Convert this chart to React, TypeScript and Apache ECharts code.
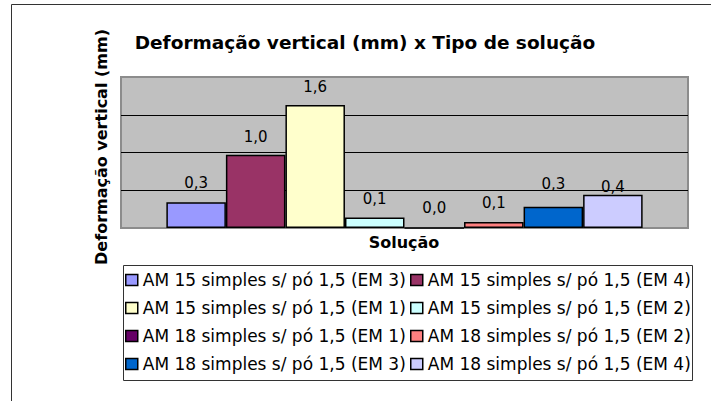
import React, { useEffect, useRef } from 'react';
import * as echarts from 'echarts';

const categories = ['Solução'];
const seriesNames = [
  'AM 15 simples s/ pó 1,5 (EM 3)',
  'AM 15 simples s/ pó 1,5 (EM 4)',
  'AM 15 simples s/ pó 1,5 (EM 1)',
  'AM 15 simples s/ pó 1,5 (EM 2)',
  'AM 18 simples s/ pó 1,5 (EM 1)',
  'AM 18 simples s/ pó 1,5 (EM 2)',
  'AM 18 simples s/ pó 1,5 (EM 3)',
  'AM 18 simples s/ pó 1,5 (EM 4)',
];
const seriesValues = [0.34, 0.97, 1.63, 0.14, 0.0, 0.08, 0.28, 0.44];
const seriesColors = ['#9999FF', '#993366', '#FFFFCC', '#CCFFFF', '#660066', '#FF8080', '#0066CC', '#CCCCFF'];
const labelDistances = [11.5, 10.5, 10.5, 10.5, 11.5, 11.5, 15.5, 0.5];
const yMin = 0;
const yMax = 2;
const yInterval = 0.5;

const titleText = 'Deformação vertical (mm) x Tipo de solução';
const yTitle = 'Deformação vertical (mm)';
const xTitle = 'Solução';

const FONT = "'DejaVu Sans', sans-serif";

export default function App() {
  const ref = useRef<HTMLDivElement>(null);
  useEffect(() => {
    const chart = echarts.init(ref.current as HTMLDivElement, null, { renderer: 'svg' });
    const fmt = (v: number) => v.toFixed(1).replace('.', ',');
    chart.setOption({
      animation: false,
      backgroundColor: '#ffffff',
      textStyle: { fontFamily: FONT },
      grid: {
        show: true,
        left: 121,
        top: 77,
        width: 567,
        height: 151,
        backgroundColor: '#C0C0C0',
        borderColor: '#8c8c8c',
        borderWidth: 2,
      },
      xAxis: {
        type: 'category',
        data: categories,
        axisLabel: { show: false },
        axisTick: { show: false },
        axisLine: { show: false },
      },
      yAxis: {
        type: 'value',
        min: yMin,
        max: yMax,
        interval: yInterval,
        axisLabel: { show: false },
        axisTick: { show: false },
        axisLine: { show: false },
        splitLine: {
          show: true,
          showMinLine: false,
          showMaxLine: false,
          lineStyle: { color: '#000000', width: 1 },
        },
      },
      legend: [
        {
          orient: 'vertical',
          left: 125,
          top: 271,
          padding: 0,
          itemGap: 10,
          itemWidth: 12,
          itemHeight: 11,
          icon: 'rect',
          selectedMode: false,
          data: [seriesNames[0], seriesNames[2], seriesNames[4], seriesNames[6]],
          itemStyle: { borderColor: '#000', borderWidth: 1.5 },
          textStyle: { fontFamily: FONT, fontSize: 17, color: '#000', lineHeight: 18 },
        },
        {
          orient: 'vertical',
          left: 410,
          top: 271,
          padding: 0,
          itemGap: 10,
          itemWidth: 12,
          itemHeight: 11,
          icon: 'rect',
          selectedMode: false,
          data: [seriesNames[1], seriesNames[3], seriesNames[5], seriesNames[7]],
          itemStyle: { borderColor: '#000', borderWidth: 1.5 },
          textStyle: { fontFamily: FONT, fontSize: 17, color: '#000', lineHeight: 18 },
        },
      ],
      series: seriesNames.map((name, i) => ({
        type: 'bar',
        name,
        data: [seriesValues[i]],
        barGap: '0%',
        barCategoryGap: '16%',
        itemStyle: { color: seriesColors[i], borderColor: '#000', borderWidth: 1.5 },
        label: {
          show: true,
          position: 'top',
          distance: labelDistances[i],
          formatter: (p: any) => fmt(p.value),
          fontFamily: FONT,
          fontSize: 15,
          color: '#000',
        },
      })),
      graphic: [
        {
          type: 'polyline',
          shape: { points: [[11.5, 401], [11.5, 4.5], [711, 4.5]] },
          style: { stroke: '#333', lineWidth: 1, fill: 'none' },
          silent: true,
        },
        {
          type: 'rect',
          shape: { x: 123.5, y: 265.5, width: 569, height: 115 },
          style: { stroke: '#333', lineWidth: 1, fill: 'none' },
          silent: true,
        },
        {
          type: 'text',
          x: 365,
          y: 42,
          style: {
            text: titleText,
            fontFamily: FONT,
            fontSize: 18.5,
            fontWeight: 'bold',
            fill: '#000',
            align: 'center',
            verticalAlign: 'middle',
          },
          silent: true,
        },
        {
          type: 'text',
          x: 101,
          y: 147,
          rotation: Math.PI / 2,
          style: {
            text: yTitle,
            fontFamily: FONT,
            fontSize: 16,
            fontWeight: 'bold',
            fill: '#000',
            align: 'center',
            verticalAlign: 'middle',
          },
          silent: true,
        },
        {
          type: 'text',
          x: 404,
          y: 242,
          style: {
            text: xTitle,
            fontFamily: FONT,
            fontSize: 16,
            fontWeight: 'bold',
            fill: '#000',
            align: 'center',
            verticalAlign: 'middle',
          },
          silent: true,
        },
      ],
    });
    return () => chart.dispose();
  }, []);
  return (
    <div
      ref={ref}
      style={{ position: 'absolute', left: 0, top: 0, width: 711, height: 401, background: '#fff' }}
    />
  );
}
